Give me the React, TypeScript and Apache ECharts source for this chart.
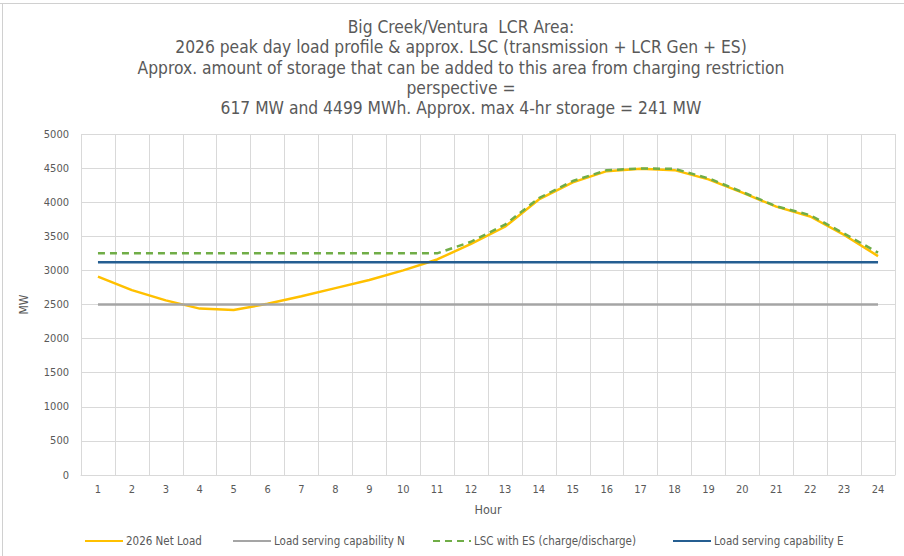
import React, { useEffect, useRef } from "react";
import * as echarts from "echarts";

const hours = ["1","2","3","4","5","6","7","8","9","10","11","12","13","14","15","16","17","18","19","20","21","22","23","24"];
const netLoad = [2910, 2710, 2560, 2440, 2420, 2510, 2620, 2740, 2860, 3000, 3160, 3390, 3640, 4040, 4290, 4455, 4490, 4470, 4335, 4140, 3935, 3790, 3520, 3210];
const lscN = [2500, 2500, 2500, 2500, 2500, 2500, 2500, 2500, 2500, 2500, 2500, 2500, 2500, 2500, 2500, 2500, 2500, 2500, 2500, 2500, 2500, 2500, 2500, 2500];
const lscES = [3250, 3250, 3250, 3250, 3250, 3250, 3250, 3250, 3250, 3250, 3250, 3420, 3670, 4060, 4310, 4470, 4495, 4490, 4350, 4150, 3940, 3810, 3540, 3260];
const lscE = [3120, 3120, 3120, 3120, 3120, 3120, 3120, 3120, 3120, 3120, 3120, 3120, 3120, 3120, 3120, 3120, 3120, 3120, 3120, 3120, 3120, 3120, 3120, 3120];
const seriesNames = ["2026 Net Load", "Load serving capability N", "LSC with ES (charge/discharge)", "Load serving capability E"];
const titleText = "Big Creek/Ventura  LCR Area:\n2026 peak day load profile & approx. LSC (transmission + LCR Gen + ES)\nApprox. amount of storage that can be added to this area from charging restriction\nperspective =\n617 MW and 4499 MWh. Approx. max 4-hr storage = 241 MW";

const FONT = "'Liberation Sans Narrow', 'DejaVu Sans Condensed', 'Roboto', sans-serif";
const TXT = "#595959";

export default function App() {
  const ref = useRef<HTMLDivElement>(null);
  useEffect(() => {
    if (!ref.current) return;
    const chart = echarts.init(ref.current, null, { renderer: "svg" });
    const legendLefts = [84, 232, 432, 672];
    chart.setOption({
      animation: false,
      backgroundColor: "#ffffff",
      textStyle: { fontFamily: FONT },
      title: {
        text: titleText,
        left: 456,
        top: 12,
        textAlign: "center",
        textStyle: { fontFamily: FONT, fontSize: 17.3, fontWeight: "normal", color: TXT, lineHeight: 20.3 },
      },
      graphic: [
        { type: "line", shape: { x1: 0, y1: 3.5, x2: 904, y2: 3.5 }, style: { stroke: "#d0d0d0", lineWidth: 1 } },
        { type: "line", shape: { x1: 2.5, y1: 3, x2: 2.5, y2: 556 }, style: { stroke: "#d0d0d0", lineWidth: 1 } },
      ],
      legend: seriesNames.map((n, i) => ({
        data: [n],
        left: legendLefts[i],
        top: 535,
        itemWidth: 38,
        itemHeight: 10,
        itemGap: 3,
        padding: 0,
        itemStyle: { opacity: 0 },
        textStyle: { fontFamily: FONT, fontSize: 11.5, color: TXT, padding: [0, 0, 0, -2] },
      })),
      grid: { left: 81, right: 9, top: 134, bottom: 81 },
      xAxis: {
        type: "category",
        data: hours,
        boundaryGap: true,
        name: "Hour",
        nameLocation: "middle",
        nameGap: 28,
        nameTextStyle: { fontFamily: FONT, fontSize: 12.5, color: TXT },
        axisLine: { show: true, lineStyle: { color: "#d9d9d9" } },
        axisTick: { show: false },
        axisLabel: { color: TXT, fontSize: 11, margin: 9, fontFamily: FONT },
        splitLine: { show: true, lineStyle: { color: "#d9d9d9", width: 1 } },
      },
      yAxis: {
        type: "value",
        min: 0,
        max: 5000,
        interval: 500,
        name: "MW",
        nameLocation: "middle",
        nameGap: 51,
        nameRotate: 90,
        nameTextStyle: { fontFamily: FONT, fontSize: 12, color: TXT },
        axisLine: { show: false },
        axisTick: { show: false },
        axisLabel: { color: TXT, fontSize: 11, margin: 12, fontFamily: FONT, formatter: (v: number) => String(v) },
        splitLine: { show: true, lineStyle: { color: "#d9d9d9", width: 1 } },
      },
      series: [
        { name: seriesNames[0], type: "line", data: netLoad, symbol: "none", lineStyle: { color: "#FFC000", width: 2.5 }, itemStyle: { color: "#FFC000" } },
        { name: seriesNames[1], type: "line", data: lscN, symbol: "none", lineStyle: { color: "#A5A5A5", width: 2.5 }, itemStyle: { color: "#A5A5A5" } },
        { name: seriesNames[2], type: "line", data: lscES, symbol: "none", lineStyle: { color: "#70AD47", width: 2.5, type: [7, 5] }, itemStyle: { color: "#70AD47" } },
        { name: seriesNames[3], type: "line", data: lscE, symbol: "none", lineStyle: { color: "#255E91", width: 2.5 }, itemStyle: { color: "#255E91" } },
      ],
    });
    return () => chart.dispose();
  }, []);
  return <div ref={ref} style={{ width: 904, height: 556, position: "absolute", left: 0, top: 0 }} />;
}
